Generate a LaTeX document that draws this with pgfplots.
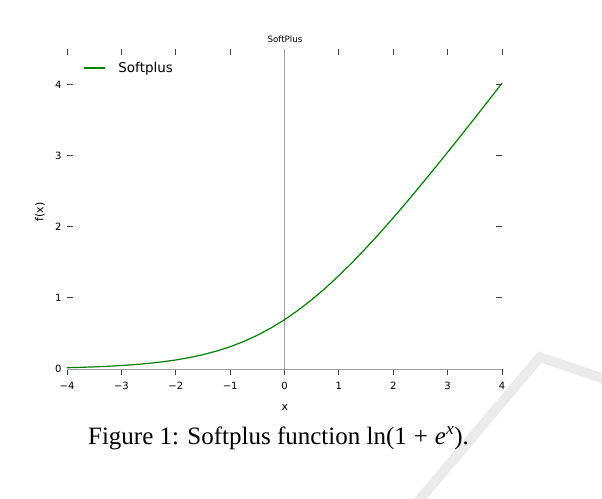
\documentclass[border=0pt]{standalone}
\usepackage{pgfplots}
\pgfplotsset{compat=1.18}
\usepackage{fontspec}
\setmainfont{DejaVu Sans}
\newfontfamily\timesfont{Liberation Serif}

\definecolor{mplgreen}{HTML}{008000}
\definecolor{spine}{HTML}{A0A0A0}
\definecolor{wmark}{HTML}{EBEBEB}

% softplus curve ln(1+e^x), sampled every 0.25
\pgfplotstableread{
x      y
-4.00  0.0182
-3.75  0.0232
-3.50  0.0298
-3.25  0.0380
-3.00  0.0486
-2.75  0.0620
-2.50  0.0789
-2.25  0.1002
-2.00  0.1269
-1.75  0.1602
-1.50  0.2014
-1.25  0.2519
-1.00  0.3133
-0.75  0.3869
-0.50  0.4741
-0.25  0.5760
 0.00  0.6931
 0.25  0.8260
 0.50  0.9741
 0.75  1.1369
 1.00  1.3133
 1.25  1.5019
 1.50  1.7014
 1.75  1.9102
 2.00  2.1269
 2.25  2.3502
 2.50  2.5789
 2.75  2.8120
 3.00  3.0486
 3.25  3.2880
 3.50  3.5298
 3.75  3.7732
 4.00  4.0182
}\softplus

\begin{document}
\begin{tikzpicture}[x=1pt,y=1pt]
\path[use as bounding box] (0,0) rectangle (602,498);

% watermark in the lower right corner
\draw[wmark, line width=10pt, line join=miter] (416,-6) -- (540,141) -- (610,117);

% bottom axis: ticks outside with labels
\begin{axis}[
    at={(67pt,129pt)}, anchor=south west,
    scale only axis, width=435pt, height=320pt,
    xmin=-4, xmax=4, ymin=0, ymax=4.5,
    axis line style={draw=none},
    xtick={-4,-3,-2,-1,0,1,2,3,4},
    xticklabels={−4,−3,−2,−1,0,1,2,3,4},
    xtick pos=lower, ytick=\empty,
    tick align=outside,
    major tick length=6pt,
    tick style={black!75, line width=0.8pt},
    xticklabel style={font=\fontsize{10}{12}\selectfont, yshift=-4pt},
]
\end{axis}

% the plot itself, ticks inside on left, right and top
\begin{axis}[
    at={(67pt,129pt)}, anchor=south west,
    scale only axis, width=435pt, height=320pt,
    xmin=-4, xmax=4, ymin=0, ymax=4.5,
    axis line style={draw=none},
    xtick={-4,-3,-2,-1,0,1,2,3,4},
    xticklabels={},
    xtick pos=upper,
    ytick={0,1,2,3,4},
    yticklabels={0,1,2,3,4},
    ytick pos=both, yticklabel pos=left,
    tick align=inside,
    major tick length=6pt,
    tick style={black!75, line width=0.8pt},
    yticklabel style={font=\fontsize{10}{12}\selectfont, xshift=-2pt},
    legend style={at={(0.0368,0.9406)}, anchor=west, draw=none, fill=none,
        inner sep=0pt,
        font=\fontsize{13.5}{16}\selectfont,
        /tikz/every odd column/.append style={column sep=11pt}},
    legend cell align=left,
    legend image code/.code={\draw[#1] (0pt,0pt) -- (21pt,0pt);},
    clip=false,
]
\draw[spine, line width=1pt] (axis cs:-4,0) -- (axis cs:4,0);
\draw[spine, line width=1pt] (axis cs:0,0) -- (axis cs:0,4.5);
\addplot[mplgreen, line width=1.2pt] table[x=x, y=y] {\softplus};
\addlegendentry{Softplus}
\end{axis}

\node[font=\fontsize{8.7}{10}\selectfont] at (285,459) {SoftPlus};
\node[font=\fontsize{11}{13}\selectfont] at (285,91) {x};
\node[font=\fontsize{11}{13}\selectfont, rotate=90] at (40,286) {f(x)};

\node[font=\timesfont\fontsize{25}{30}\selectfont, anchor=base, inner sep=0pt] at (278.5,54)
  {Figure 1: Softplus function ln(1\hspace{0.28em}+\hspace{0.28em}\textit{e}\textsuperscript{\textit{x}}).};
\end{tikzpicture}
\end{document}
